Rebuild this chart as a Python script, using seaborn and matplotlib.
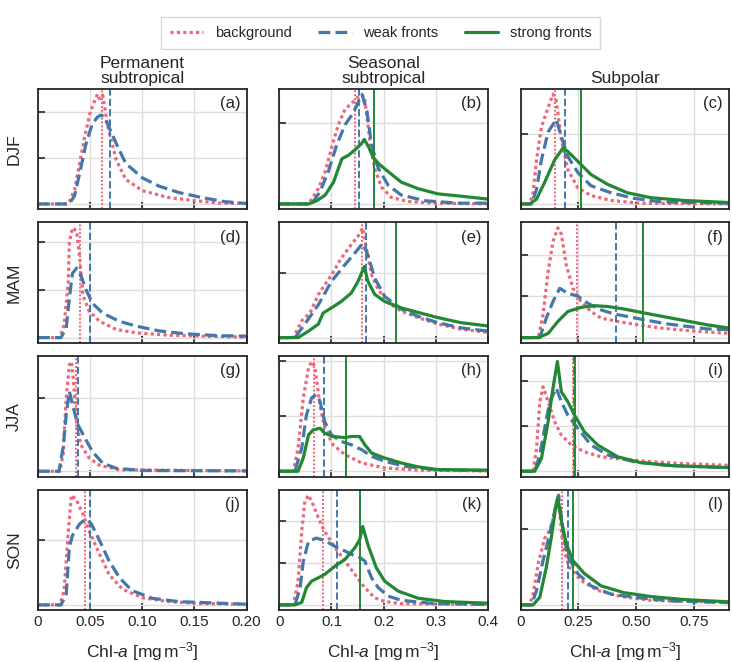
import matplotlib
matplotlib.use("Agg")
import numpy as np
import pandas as pd
import matplotlib.pyplot as plt
from matplotlib.ticker import MultipleLocator
import seaborn as sns

# density curves, y in units of the (unlabelled) y-tick step
# row DJF
a_bg = [(0, 0), (0.028, 0), (0.030, 0.05), (0.035, 0.3), (0.040, 0.9), (0.045, 1.5), (0.050, 2.0),
        (0.055, 2.3), (0.057, 2.4), (0.059, 2.3), (0.062, 2.38), (0.064, 2.1), (0.067, 1.68),
        (0.075, 0.96), (0.084, 0.54), (0.1, 0.29), (0.125, 0.14), (0.151, 0.07), (0.173, 0.02), (0.2, 0.01)]
a_weak = [(0, 0), (0.030, 0), (0.035, 0.18), (0.040, 0.68), (0.046, 1.32), (0.052, 1.75), (0.057, 1.9),
          (0.060, 1.94), (0.063, 1.92), (0.068, 1.68), (0.075, 1.32), (0.084, 0.89), (0.1, 0.57),
          (0.116, 0.39), (0.135, 0.25), (0.157, 0.14), (0.179, 0.05), (0.2, 0.01)]
b_bg = [(0, 0), (0.056, 0), (0.075, 0.19), (0.088, 0.4), (0.1, 0.69), (0.113, 0.98), (0.126, 1.17),
        (0.142, 1.27), (0.152, 1.33), (0.158, 1.36), (0.164, 1.3), (0.174, 0.77), (0.183, 0.44),
        (0.196, 0.21), (0.215, 0.08), (0.247, 0.03), (0.3, 0.01), (0.4, 0)]
b_weak = [(0, 0), (0.062, 0), (0.078, 0.15), (0.094, 0.4), (0.11, 0.73), (0.126, 0.98), (0.142, 1.13),
          (0.152, 1.27), (0.159, 1.35), (0.168, 1.15), (0.177, 0.73), (0.19, 0.44), (0.209, 0.23),
          (0.234, 0.11), (0.279, 0.04), (0.343, 0.01), (0.4, 0.01)]
b_strong = [(0, 0), (0.056, 0), (0.072, 0.04), (0.088, 0.11), (0.104, 0.27), (0.12, 0.56), (0.132, 0.6),
            (0.145, 0.67), (0.158, 0.75), (0.163, 0.8), (0.171, 0.71), (0.18, 0.58), (0.19, 0.5),
            (0.209, 0.4), (0.234, 0.27), (0.266, 0.19), (0.304, 0.125), (0.343, 0.1), (0.4, 0.06)]
c_bg = [(0, 0), (0.04, 0), (0.054, 0.16), (0.069, 0.63), (0.09, 1.1), (0.119, 1.38), (0.14, 1.57),
        (0.154, 1.48), (0.176, 0.92), (0.204, 0.49), (0.247, 0.23), (0.304, 0.12), (0.39, 0.05),
        (0.519, 0.01), (0.9, 0)]
c_weak = [(0, 0), (0.047, 0), (0.069, 0.21), (0.09, 0.63), (0.119, 1.03), (0.154, 1.21), (0.176, 0.96),
          (0.204, 0.68), (0.247, 0.45), (0.304, 0.26), (0.39, 0.16), (0.49, 0.08), (0.604, 0.03), (0.9, 0.01)]
c_strong = [(0, 0), (0.04, 0), (0.069, 0.07), (0.104, 0.31), (0.147, 0.63), (0.183, 0.8), (0.204, 0.75),
            (0.247, 0.61), (0.304, 0.42), (0.376, 0.28), (0.461, 0.16), (0.561, 0.09), (0.704, 0.05), (0.9, 0.02)]

# row MAM
d_bg = [(0, 0), (0.021, 0), (0.025, 0.27), (0.029, 1.16), (0.030, 1.99), (0.033, 2.29), (0.037, 2.22),
        (0.040, 1.64), (0.043, 0.89), (0.049, 0.55), (0.059, 0.34), (0.075, 0.17), (0.094, 0.1),
        (0.125, 0.05), (0.157, 0.03), (0.2, 0.01)]
d_weak = [(0, 0), (0.022, 0), (0.027, 0.2), (0.030, 0.82), (0.033, 1.34), (0.037, 1.45), (0.041, 1.3),
          (0.046, 1.0), (0.052, 0.72), (0.062, 0.51), (0.078, 0.34), (0.094, 0.24), (0.116, 0.14),
          (0.141, 0.08), (0.173, 0.04), (0.2, 0.03)]
e_bg = [(0, 0), (0.027, 0), (0.043, 0.26), (0.059, 0.38), (0.075, 0.67), (0.1, 0.97), (0.119, 1.23),
        (0.138, 1.44), (0.151, 1.57), (0.16, 1.70), (0.167, 1.38), (0.177, 0.97), (0.19, 0.74),
        (0.209, 0.54), (0.234, 0.41), (0.266, 0.31), (0.304, 0.21), (0.349, 0.13), (0.4, 0.08)]
e_weak = [(0, 0), (0.03, 0), (0.049, 0.21), (0.075, 0.51), (0.1, 0.87), (0.126, 1.13), (0.145, 1.31),
          (0.16, 1.46), (0.17, 1.28), (0.183, 0.92), (0.202, 0.64), (0.234, 0.44), (0.266, 0.33),
          (0.304, 0.23), (0.349, 0.15), (0.4, 0.1)]
e_strong = [(0, 0), (0.036, 0), (0.056, 0.1), (0.075, 0.21), (0.084, 0.38), (0.1, 0.46), (0.119, 0.56),
            (0.138, 0.69), (0.151, 0.87), (0.163, 1.1), (0.17, 0.87), (0.183, 0.67), (0.202, 0.56),
            (0.234, 0.46), (0.266, 0.39), (0.304, 0.31), (0.349, 0.23), (0.4, 0.18)]
f_bg = [(0, 0), (0.076, 0), (0.097, 0.55), (0.119, 1.6), (0.14, 2.32), (0.161, 2.65), (0.176, 2.5),
        (0.197, 1.76), (0.226, 1.19), (0.261, 0.87), (0.304, 0.63), (0.347, 0.47), (0.419, 0.39),
        (0.504, 0.31), (0.604, 0.23), (0.719, 0.17), (0.9, 0.1)]
f_weak = [(0, 0), (0.083, 0), (0.111, 0.47), (0.14, 0.87), (0.169, 1.19), (0.204, 1.07), (0.247, 1.0),
          (0.29, 0.83), (0.347, 0.67), (0.404, 0.57), (0.461, 0.51), (0.533, 0.43), (0.633, 0.33),
          (0.719, 0.27), (0.804, 0.21), (0.9, 0.19)]
f_strong = [(0, 0), (0.076, 0), (0.119, 0.1), (0.161, 0.39), (0.204, 0.63), (0.261, 0.73), (0.319, 0.77),
            (0.376, 0.75), (0.447, 0.69), (0.519, 0.61), (0.604, 0.52), (0.69, 0.43), (0.804, 0.31), (0.9, 0.23)]

# row JJA
g_bg = [(0, 0), (0.021, 0), (0.024, 0.23), (0.027, 1.0), (0.030, 1.45), (0.032, 1.5), (0.034, 1.23),
        (0.037, 0.64), (0.041, 0.36), (0.049, 0.18), (0.059, 0.08), (0.078, 0.02), (0.2, 0.005)]
g_weak = [(0, 0), (0.020, 0), (0.024, 0.32), (0.027, 0.77), (0.030, 1.09), (0.034, 0.86), (0.038, 0.64),
          (0.044, 0.48), (0.052, 0.27), (0.062, 0.11), (0.075, 0.04), (0.1, 0.01), (0.2, 0.005)]
h_bg = [(0, 0), (0.027, 0), (0.036, 0.42), (0.046, 1.33), (0.056, 1.87), (0.062, 1.99), (0.068, 1.9),
        (0.078, 1.2), (0.087, 0.78), (0.103, 0.48), (0.126, 0.3), (0.158, 0.15), (0.202, 0.06),
        (0.266, 0.02), (0.4, 0.005)]
h_weak = [(0, 0), (0.03, 0), (0.043, 0.42), (0.052, 1.02), (0.062, 1.33), (0.071, 1.39), (0.078, 1.27),
          (0.087, 0.9), (0.1, 0.66), (0.119, 0.54), (0.138, 0.48), (0.158, 0.39), (0.177, 0.27),
          (0.202, 0.18), (0.241, 0.09), (0.298, 0.03), (0.4, 0.01)]
h_strong = [(0, 0), (0.036, 0), (0.046, 0.24), (0.056, 0.66), (0.065, 0.75), (0.078, 0.78), (0.087, 0.69),
            (0.103, 0.63), (0.126, 0.61), (0.138, 0.63), (0.154, 0.63), (0.164, 0.48), (0.177, 0.33),
            (0.202, 0.24), (0.234, 0.15), (0.266, 0.08), (0.304, 0.03), (0.4, 0.02)]
i_bg = [(0, 0), (0.054, 0), (0.069, 0.5), (0.083, 1.54), (0.097, 1.87), (0.119, 1.54), (0.147, 1.1),
        (0.176, 0.8), (0.219, 0.58), (0.276, 0.43), (0.347, 0.32), (0.433, 0.27), (0.561, 0.21),
        (0.704, 0.17), (0.9, 0.13)]
i_weak = [(0, 0), (0.061, 0), (0.083, 0.36), (0.104, 0.95), (0.126, 1.54), (0.154, 1.84), (0.176, 1.54),
          (0.204, 1.24), (0.247, 0.95), (0.304, 0.58), (0.376, 0.36), (0.49, 0.21), (0.633, 0.13), (0.9, 0.08)]
i_strong = [(0, 0), (0.061, 0), (0.09, 0.28), (0.119, 1.1), (0.14, 1.84), (0.159, 2.43), (0.176, 1.76),
            (0.204, 1.54), (0.233, 1.24), (0.276, 0.87), (0.333, 0.58), (0.419, 0.32), (0.519, 0.19),
            (0.661, 0.12), (0.9, 0.08)]

# row SON
j_bg = [(0, 0), (0.021, 0), (0.025, 0.22), (0.029, 1.14), (0.032, 1.69), (0.037, 1.61), (0.043, 1.4),
        (0.049, 1.14), (0.059, 0.78), (0.068, 0.47), (0.081, 0.24), (0.1, 0.11), (0.125, 0.05),
        (0.157, 0.02), (0.2, 0.01)]
j_weak = [(0, 0), (0.022, 0), (0.027, 0.16), (0.030, 0.89), (0.033, 1.07), (0.040, 1.25), (0.046, 1.32),
          (0.051, 1.25), (0.059, 0.99), (0.068, 0.68), (0.078, 0.42), (0.090, 0.22), (0.110, 0.1),
          (0.135, 0.05), (0.2, 0.01)]
k_bg = [(0, 0), (0.027, 0), (0.036, 0.57), (0.043, 1.76), (0.049, 2.48), (0.056, 2.63), (0.065, 2.4),
        (0.075, 2.08), (0.087, 1.76), (0.107, 1.37), (0.126, 1.05), (0.145, 0.73), (0.164, 0.41),
        (0.183, 0.17), (0.202, 0.08), (0.234, 0.03), (0.4, 0.01)]
k_weak = [(0, 0), (0.03, 0), (0.040, 0.41), (0.046, 1.05), (0.056, 1.52), (0.071, 1.6), (0.087, 1.54),
          (0.107, 1.4), (0.126, 1.29), (0.145, 1.17), (0.154, 1.14), (0.164, 1.05), (0.177, 0.65),
          (0.19, 0.41), (0.209, 0.21), (0.234, 0.11), (0.298, 0.03), (0.4, 0.01)]
k_strong = [(0, 0), (0.03, 0), (0.043, 0.06), (0.052, 0.41), (0.062, 0.57), (0.075, 0.65), (0.087, 0.73),
            (0.107, 0.93), (0.126, 1.09), (0.145, 1.37), (0.154, 1.56), (0.16, 1.88), (0.17, 1.44),
            (0.186, 0.89), (0.202, 0.57), (0.228, 0.33), (0.266, 0.16), (0.317, 0.08), (0.4, 0.04)]
l_bg = [(0, 0), (0.04, 0), (0.054, 0.14), (0.076, 0.54), (0.104, 0.87), (0.126, 0.98), (0.147, 1.2),
        (0.164, 1.37), (0.183, 0.76), (0.211, 0.49), (0.261, 0.32), (0.333, 0.19), (0.433, 0.11),
        (0.561, 0.06), (0.9, 0.03)]
l_weak = [(0, 0), (0.047, 0), (0.069, 0.19), (0.097, 0.58), (0.126, 0.93), (0.154, 1.33), (0.164, 1.44),
          (0.183, 0.98), (0.204, 0.63), (0.247, 0.41), (0.304, 0.25), (0.39, 0.14), (0.519, 0.09),
          (0.661, 0.05), (0.9, 0.03)]
l_strong = [(0, 0), (0.054, 0), (0.083, 0.1), (0.111, 0.49), (0.133, 0.89), (0.154, 1.33), (0.161, 1.4),
            (0.176, 1.11), (0.197, 0.8), (0.226, 0.58), (0.276, 0.41), (0.347, 0.25), (0.447, 0.16),
            (0.561, 0.11), (0.704, 0.07), (0.9, 0.04)]

# medians (background, weak fronts, strong fronts)
med_a = [0.061, 0.069]
med_b = [0.145, 0.153, 0.182]
med_c = [0.150, 0.190, 0.259]
med_d = [0.040, 0.050]
med_e = [0.158, 0.167, 0.223]
med_f = [0.244, 0.414, 0.527]
med_g = [0.0365, 0.0387]
med_h = [0.066, 0.086, 0.128]
med_i = [0.226, 0.230, 0.237]
med_j = [0.045, 0.050]
med_k = [0.084, 0.111, 0.154]
med_l = [0.180, 0.204, 0.226]

seasons = ["DJF", "MAM", "JJA", "SON"]
regions = ["Permanent\nsubtropical", "Seasonal\nsubtropical", "Subpolar"]
series_names = ["background", "weak fronts", "strong fronts"]
xlims = [0.2, 0.4, 0.9]
xtick_vals = [[0, 0.05, 0.10, 0.15, 0.20], [0, 0.1, 0.2, 0.3, 0.4], [0, 0.25, 0.50, 0.75]]
xtick_text = [["0", "0.05", "0.10", "0.15", "0.20"], ["0", "0.1", "0.2", "0.3", "0.4"],
              ["0", "0.25", "0.50", "0.75"]]

panels = [
    [(a_bg, a_weak), (b_bg, b_weak, b_strong), (c_bg, c_weak, c_strong)],
    [(d_bg, d_weak), (e_bg, e_weak, e_strong), (f_bg, f_weak, f_strong)],
    [(g_bg, g_weak), (h_bg, h_weak, h_strong), (i_bg, i_weak, i_strong)],
    [(j_bg, j_weak), (k_bg, k_weak, k_strong), (l_bg, l_weak, l_strong)],
]
medians = [[med_a, med_b, med_c], [med_d, med_e, med_f], [med_g, med_h, med_i], [med_j, med_k, med_l]]

colors = ["#EE6677", "#4477AA", "#228833"]
styles = [(0, (1, 1)), (0, (3.7, 1.6)), "-"]

sns.set_style("ticks")
plt.rcParams["font.family"] = ["Liberation Sans", "DejaVu Sans"]
plt.rcParams["mathtext.fontset"] = "custom"
plt.rcParams["mathtext.rm"] = "Liberation Sans"
plt.rcParams["mathtext.it"] = "Liberation Sans:italic"

fig, axes = plt.subplots(4, 3, figsize=(7.32, 6.62), dpi=100)
fig.subplots_adjust(left=0.052, right=0.996, top=0.866, bottom=0.078, wspace=0.157, hspace=0.107)

letters = "abcdefghijkl"
for r in range(4):
    for c in range(3):
        ax = axes[r, c]
        for s, curve in enumerate(panels[r][c]):
            df = pd.DataFrame(curve, columns=["chl", "dens"])
            sns.lineplot(data=df, x="chl", y="dens", ax=ax, color=colors[s], linestyle=styles[s],
                         linewidth=2.3, sort=False, errorbar=None, label=series_names[s])
            ax.axvline(medians[r][c][s], color=colors[s], linestyle=styles[s], linewidth=1.4)
        if ax.get_legend() is not None:
            ax.get_legend().remove()
        ax.set_xlim(0, xlims[c])
        ax.yaxis.set_major_locator(MultipleLocator(1))
        ax.set_yticklabels([])
        ax.set_ylabel("")
        ax.set_xlabel("")
        ax.set_xticks(xtick_vals[c])
        ax.grid(True, color="#dddddd", linewidth=1)
        ax.tick_params(direction="in", length=5, width=1.2, labelsize=11)
        for sp in ax.spines.values():
            sp.set_linewidth(1.3)
        if r == 3:
            ax.set_xticklabels(xtick_text[c])
            ax.set_xlabel(r"Chl-$a$ [mg$\,$m$^{-3}$]", fontsize=12.5, labelpad=8)
        else:
            ax.set_xticklabels([])
        if r == 0:
            ax.set_title(regions[c], fontsize=12.5, pad=4, linespacing=1.0)
        if c == 0:
            ax.set_ylabel(seasons[r], fontsize=12.5, labelpad=8)
        ax.text(0.97, 0.94, "(%s)" % letters[r * 3 + c], transform=ax.transAxes,
                ha="right", va="top", fontsize=12)

handles, labels = axes[0, 1].get_legend_handles_labels()
fig.legend(handles, labels, loc="upper center", bbox_to_anchor=(0.52, 0.985), ncol=3,
           frameon=True, fancybox=False, edgecolor="#cccccc", fontsize=10.5,
           handlelength=2.3, columnspacing=1.8, borderpad=0.6)

fig.savefig("out.png", dpi=100)
